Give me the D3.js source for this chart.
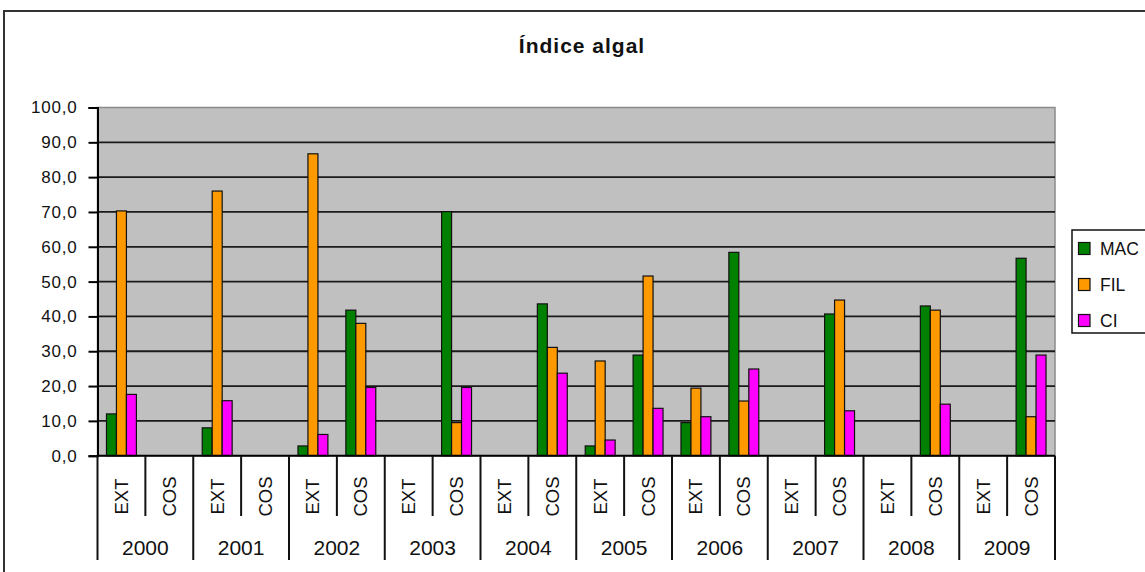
<!DOCTYPE html>
<html>
<head>
<meta charset="utf-8">
<script src="https://cdn.jsdelivr.net/npm/d3@7"></script>
<style>
  html, body { margin: 0; padding: 0; background: #fff; }
  svg { display: block; font-family: Arial, "Liberation Sans", sans-serif; }
</style>
</head>
<body>
<svg id="chart" width="1145" height="572"></svg>
<script>
// Índice algal per year and sampling site
const years = ["2000","2001","2002","2003","2004","2005","2006","2007","2008","2009"];
const sites = ["EXT","COS"];
const seriesNames = ["MAC","FIL","CI"];
const seriesColors = ["#008000","#FF9900","#FF00FF"];
// one value per (year, site), in the order 2000-EXT, 2000-COS, 2001-EXT, ...
const mac = [12.0, null, 8.0, null, 2.8, 41.8, null, 70.1, null, 43.6, 2.8, 28.9, 9.5, 58.4, null, 40.7, null, 43.0, null, 56.7];
const fil = [70.3, null, 76.0, null, 86.7, 38.0, null, 9.5, null, 31.1, 27.2, 51.6, 19.4, 15.7, null, 44.7, null, 41.8, null, 11.2];
const ci  = [17.6, null, 15.8, null, 6.1, 19.6, null, 19.6, null, 23.7, 4.5, 13.6, 11.2, 24.9, null, 12.9, null, 14.8, null, 28.9];
const yTicks = [0,10,20,30,40,50,60,70,80,90,100];

const categories = [];
years.forEach(y => sites.forEach(s => categories.push({ key: y + "-" + s, year: y, site: s })));
const seriesValues = [mac, fil, ci];

const svg = d3.select("#chart");
const plot = { left: 97.5, right: 1055, top: 107.5, bottom: 455.7 };

// outer chart frame
svg.append("rect").attr("x", 4).attr("y", 11).attr("width", 1160).attr("height", 600)
  .attr("fill", "#fff").attr("stroke", "#333").attr("stroke-width", 2);

// title
svg.append("text").attr("x", 582).attr("y", 53).attr("text-anchor", "middle")
  .attr("font-size", 21).attr("font-weight", "bold").attr("letter-spacing", 1)
  .attr("fill", "#111").text("Índice algal");

const x0 = d3.scaleBand().domain(categories.map(d => d.key)).range([plot.left, plot.right]).padding(0);
const x1 = d3.scaleBand().domain(seriesNames).range([0, x0.bandwidth()]).paddingInner(0).paddingOuter(0.9);
const y = d3.scaleLinear().domain([0, 100]).range([plot.bottom, plot.top]);

// plot area background
svg.append("rect").attr("x", plot.left).attr("y", plot.top)
  .attr("width", plot.right - plot.left).attr("height", plot.bottom - plot.top)
  .attr("fill", "#C0C0C0").attr("stroke", "#8a8a8a").attr("stroke-width", 1.5);

// horizontal gridlines
svg.append("g").selectAll("line").data(yTicks.filter(t => t > 0 && t < 100)).join("line")
  .attr("x1", plot.left).attr("x2", plot.right)
  .attr("y1", d => y(d)).attr("y2", d => y(d))
  .attr("stroke", "#1a1a1a").attr("stroke-width", 1.8);

// y axis
const yAxis = d3.axisLeft(y).tickValues(yTicks).tickSize(9).tickPadding(11)
  .tickFormat(d => d3.format(".1f")(d).replace(".", ","));
const gy = svg.append("g").attr("transform", `translate(${plot.left},0)`).call(yAxis);
gy.select(".domain").attr("stroke", "#000").attr("stroke-width", 2);
gy.selectAll(".tick line").attr("stroke", "#000").attr("stroke-width", 2);
gy.selectAll(".tick text").attr("font-size", 17).attr("letter-spacing", 0.8)
  .attr("font-family", "Arial, 'Liberation Sans', sans-serif").attr("fill", "#111");

// bars
const groups = svg.append("g").selectAll("g").data(categories).join("g")
  .attr("transform", d => `translate(${x0(d.key)},0)`);
groups.selectAll("rect")
  .data((d, i) => seriesNames.map((s, k) => ({ s, k, v: seriesValues[k][i] })).filter(e => e.v != null))
  .join("rect")
  .attr("x", e => x1(e.s)).attr("width", x1.bandwidth())
  .attr("y", e => y(e.v)).attr("height", e => y(0) - y(e.v))
  .attr("fill", e => seriesColors[e.k]).attr("stroke", "#111").attr("stroke-width", 1.2);

// category axis line
svg.append("line").attr("x1", plot.left).attr("x2", plot.right)
  .attr("y1", plot.bottom).attr("y2", plot.bottom).attr("stroke", "#000").attr("stroke-width", 2);

// category separators: short ones between sites, long ones between years
const bounds = d3.range(categories.length + 1);
svg.append("g").selectAll("line").data(bounds).join("line")
  .attr("x1", i => x0.step() * i + plot.left).attr("x2", i => x0.step() * i + plot.left)
  .attr("y1", plot.bottom).attr("y2", i => (i % 2 === 0 ? 560 : 516))
  .attr("stroke", "#111").attr("stroke-width", 2);

// site labels (rotated)
svg.append("g").selectAll("text").data(categories).join("text")
  .attr("transform", d => `translate(${x0(d.key) + x0.bandwidth() / 2 + 6.5},496.5) rotate(-90)`)
  .attr("text-anchor", "middle").attr("font-size", 18.5).attr("fill", "#111")
  .text(d => d.site);

// year labels
svg.append("g").selectAll("text").data(years).join("text")
  .attr("x", (yr, i) => plot.left + x0.step() * (2 * i + 1)).attr("y", 555)
  .attr("text-anchor", "middle").attr("font-size", 21).attr("fill", "#111")
  .text(d => d);

// legend
const lg = svg.append("g");
lg.append("rect").attr("x", 1072).attr("y", 230).attr("width", 80).attr("height", 103)
  .attr("fill", "#fff").attr("stroke", "#111").attr("stroke-width", 1.5);
const items = lg.selectAll("g").data(seriesNames).join("g")
  .attr("transform", (d, i) => `translate(1078.5,${248.5 + i * 36})`);
items.append("rect").attr("x", 0).attr("y", -6).attr("width", 11.5).attr("height", 12)
  .attr("fill", (d, i) => seriesColors[i]).attr("stroke", "#111").attr("stroke-width", 1.2);
items.append("text").attr("x", 21.5).attr("y", 6.5).attr("font-size", 17.5)
  .attr("fill", "#111").text(d => d);
</script>
</body>
</html>
